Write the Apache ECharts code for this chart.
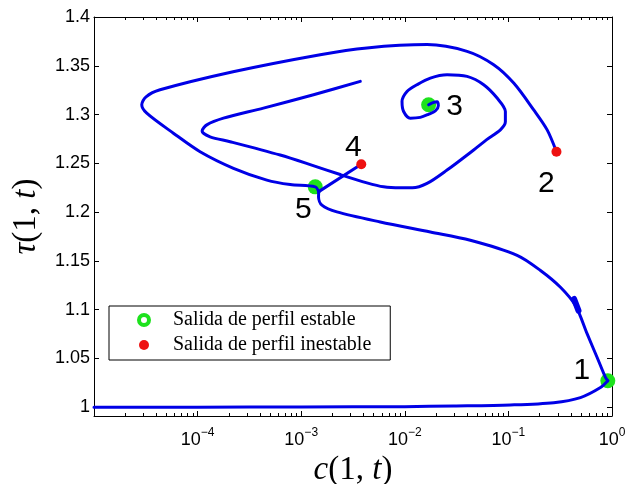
<!DOCTYPE html>
<html>
<head>
<meta charset="utf-8">
<script src="https://cdn.jsdelivr.net/npm/echarts@6/dist/echarts.min.js"></script>
<style>
  html, body { margin: 0; padding: 0; background: #fff; }
  #chart { width: 625px; height: 484px; }
</style>
</head>
<body>
<div id="chart"></div>
<script>
// Trajectory of (c(1,t), tau(1,t)), split into its branches.
// Lower branch along tau ~ 1 up to exit 1.
const bottomC   = [1e-5, 1e-4, 1e-3, 1e-2, 0.0296, 0.1045, 0.274, 0.496, 0.774, 0.911];
const bottomTau = [1.0, 1.0, 1.0003, 1.0006, 1.0013, 1.0024, 1.0047, 1.0099, 1.0202, 1.0271];

// From exit 1 back up to the knee near exit 5.
const riseC   = [0.911, 0.865, 0.719, 0.576, 0.444, 0.318, 0.204, 0.1214, 0.0429, 0.01764, 0.0058, 0.00221, 0.001585, 0.00147, 0.001476];
const riseTau = [1.0271, 1.0305, 1.051, 1.0751, 1.1042, 1.123, 1.1402, 1.1557, 1.1711, 1.1796, 1.1899, 1.2002, 1.2071, 1.2156, 1.221];

// Short piece from the knee to exit 4.
const linkC   = [0.001476, 0.0038];
const linkTau = [1.221, 1.249];

// Outer loop from exit 2 round to exit 5.
const outerC   = [0.291, 0.2366, 0.1755, 0.1125, 0.0721, 0.0399, 0.0164, 0.00431, 0.001526, 2.2e-4, 4.34e-5, 3.18e-5, 2.89e-5, 3.23e-5, 5.84e-5, 1.057e-4, 2.22e-4, 4.66e-4, 7.83e-4, 0.001366, 0.001476];
const outerTau = [1.2619, 1.2843, 1.3048, 1.3323, 1.3511, 1.3648, 1.3717, 1.3683, 1.3614, 1.3439, 1.3254, 1.3182, 1.31, 1.3014, 1.2809, 1.2619, 1.2449, 1.2328, 1.2282, 1.2259, 1.221];

// Spiral leaving exit 3 and the inner loop it unwinds into.
const spiralC   = [0.01698, 0.01843, 0.02047, 0.02107, 0.0197, 0.01687, 0.01411, 0.0113, 0.00974, 0.0094, 0.0105, 0.01312, 0.01764, 0.02557, 0.0399, 0.0577, 0.0778, 0.0935, 0.0935, 0.0837, 0.0613, 0.0462, 0.02557, 0.0164, 0.01182, 0.00905, 0.00624, 0.00431, 0.00238, 0.001306, 6.27e-4, 2.06e-4, 1.32e-4, 1.105e-4, 1.227e-4, 1.776e-4, 4.32e-4, 0.001315, 0.00372];
const spiralTau = [1.31, 1.312, 1.3131, 1.309, 1.3038, 1.3002, 1.2971, 1.2963, 1.3031, 1.3134, 1.3237, 1.3306, 1.3374, 1.3408, 1.3391, 1.3306, 1.3169, 1.3031, 1.2925, 1.2843, 1.274, 1.2637, 1.2431, 1.2294, 1.2249, 1.2249, 1.2259, 1.23, 1.2385, 1.2477, 1.2585, 1.2722, 1.2771, 1.2832, 1.2894, 1.2963, 1.3066, 1.3203, 1.334];

// Doubled-back stretch on the rising branch.
const overlapC   = [0.43, 0.475];
const overlapTau = [1.111, 1.099];

// Profile exits.
const stableC      = [0.911, 0.01698, 0.001366];
const stableTau    = [1.0271, 1.31, 1.2259];
const stableTags   = ['1', '3', '5'];
const unstableC    = [0.291, 0.0038];
const unstableTau  = [1.2619, 1.249];
const unstableTags = ['2', '4'];

// Axis ticks.
const xTickValues = [1e-4, 1e-3, 1e-2, 1e-1, 1];
const yTickValues = [1, 1.05, 1.1, 1.15, 1.2, 1.25, 1.3, 1.35, 1.4];

const NAME_STABLE = 'Salida de perfil estable';
const NAME_UNSTABLE = 'Salida de perfil inestable';

const BLUE = '#0000e6';
const GREEN = '#1de21d';
const RED = '#ee1111';

// Where each exit number sits relative to its marker.
const tagOffsets = { '1': [-26, -10], '2': [-10, 32], '3': [26, 2], '4': [-8, -17], '5': [-12, 23] };

const zip = (xs, ys) => xs.map((x, i) => [x, ys[i]]);

// Log-axis minor ticks at 2..9 x 10^k.
const xMinorValues = [];
for (let k = -5; k < 0; k++) {
  for (let m = 2; m <= 9; m++) xMinorValues.push(m * Math.pow(10, k));
}
const xMajorTicks = [1e-5].concat(xTickValues);

const supFormatter = (v) => {
  const e = Math.round(Math.log10(v));
  return '{b|10}{s|' + (e < 0 ? '\u2212' + (-e) : String(e)) + '}';
};

const axisFont = 'Liberation Sans';
const serif = 'Liberation Serif';
const black = { color: '#000', width: 1 };

function logAxis(position, major, showLine, showLabel) {
  return {
    type: 'log', logBase: 10, min: 1e-5, max: 1, position: position,
    axisLine: { show: showLine, onZero: false, lineStyle: black },
    axisTick: { show: true, inside: true, length: major ? 5 : 3,
      customValues: major ? xMajorTicks : xMinorValues, lineStyle: black },
    axisLabel: showLabel ? {
      show: true, customValues: xTickValues, margin: 11, formatter: supFormatter,
      rich: {
        b: { fontFamily: axisFont, fontSize: 18, color: '#000', verticalAlign: 'bottom', lineHeight: 22 },
        s: { fontFamily: axisFont, fontSize: 12, color: '#000', verticalAlign: 'top', lineHeight: 22 }
      }
    } : { show: false },
    splitLine: { show: false }, minorTick: { show: false }, minorSplitLine: { show: false }
  };
}

function valAxis(position, showLabel) {
  return {
    type: 'value', min: 0.991, max: 1.4, position: position,
    axisLine: { show: true, onZero: false, lineStyle: black },
    axisTick: { show: true, inside: true, length: 5, customValues: yTickValues, lineStyle: black },
    axisLabel: showLabel ? {
      show: true, customValues: yTickValues, margin: 4,
      fontFamily: axisFont, fontSize: 18, color: '#000'
    } : { show: false },
    splitLine: { show: false }
  };
}

const nameStyle = {
  fontFamily: serif, fontSize: 33, color: '#000',
  rich: { i: { fontFamily: serif, fontSize: 33, fontStyle: 'italic', color: '#000' } }
};

const xBottom = logAxis('bottom', true, true, true);
xBottom.name = '{i|c}(1, {i|t})';
xBottom.nameLocation = 'middle';
xBottom.nameGap = 37;
xBottom.nameTextStyle = nameStyle;

const yLeft = valAxis('left', true);
yLeft.name = '{i|\u03c4}(1, {i|t})';
yLeft.nameLocation = 'middle';
yLeft.nameRotate = 90;
yLeft.nameGap = 51;
yLeft.nameTextStyle = nameStyle;

function pathSeries(xs, ys, width) {
  return {
    type: 'line', data: zip(xs, ys), xAxisIndex: 0, yAxisIndex: 0,
    symbol: 'none', showSymbol: false, smooth: 0.3, silent: true, z: 3,
    lineStyle: { color: BLUE, width: width || 3, cap: 'round', join: 'round' }
  };
}

function exitData(xs, ys, tags) {
  return xs.map((x, i) => ({
    name: tags[i], value: [x, ys[i]],
    label: { offset: tagOffsets[tags[i]] }
  }));
}

const exitLabel = {
  show: true, position: 'inside', formatter: '{b}',
  fontFamily: axisFont, fontSize: 30, color: '#000'
};

const option = {
  animation: false,
  backgroundColor: '#fff',
  grid: { left: 94, right: 13, top: 17, bottom: 68, containLabel: false, outerBoundsMode: 'none' },
  xAxis: [
    xBottom,
    logAxis('bottom', false, false, false),
    logAxis('top', true, true, false),
    logAxis('top', false, false, false)
  ],
  yAxis: [yLeft, valAxis('right', false)],
  legend: {
    orient: 'vertical', left: 109, top: 306,
    padding: [4, 19, 5, 28], itemGap: 5,
    itemWidth: 48, itemHeight: 10,
    borderColor: '#000', borderWidth: 1, borderRadius: 0,
    backgroundColor: '#fff',
    textStyle: { fontFamily: serif, fontSize: 20, color: '#000' },
    data: [
      { name: NAME_STABLE, icon: 'circle', itemStyle: { color: '#fff', borderColor: GREEN, borderWidth: 4 } },
      { name: NAME_UNSTABLE, icon: 'circle', itemStyle: { color: RED } }
    ]
  },
  series: [
    pathSeries(bottomC, bottomTau),
    pathSeries(riseC, riseTau),
    pathSeries(linkC, linkTau),
    pathSeries(outerC, outerTau),
    pathSeries(spiralC, spiralTau),
    pathSeries(overlapC, overlapTau, 6),
    {
      name: NAME_STABLE, type: 'scatter', symbol: 'circle', symbolSize: 15, z: 2,
      itemStyle: { color: GREEN, opacity: 1 },
      label: exitLabel,
      data: exitData(stableC, stableTau, stableTags)
    },
    {
      name: NAME_UNSTABLE, type: 'scatter', symbol: 'circle', symbolSize: 10, z: 4,
      itemStyle: { color: RED, opacity: 1 },
      label: exitLabel,
      data: exitData(unstableC, unstableTau, unstableTags)
    }
  ]
};

const chart = echarts.init(document.getElementById('chart'), null, { renderer: 'canvas' });
chart.setOption(option);
</script>
</body>
</html>
